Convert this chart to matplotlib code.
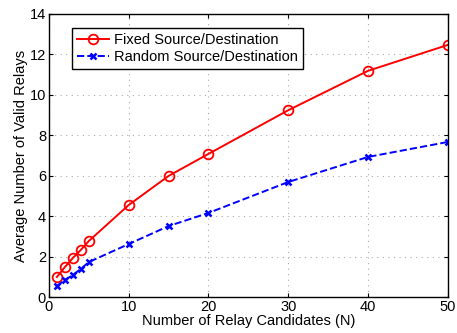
import matplotlib
matplotlib.use('Agg')
import matplotlib.pyplot as plt

# dados
n_values = [1, 2, 3, 4, 5, 10, 15, 20, 30, 40, 50]
fixed_relays = [0.99, 1.48, 1.93, 2.33, 2.77, 4.55, 5.99, 7.08, 9.24, 11.19, 12.47]
random_relays = [0.54, 0.84, 1.09, 1.39, 1.73, 2.62, 3.51, 4.16, 5.69, 6.93, 7.67]

plt.rcParams['font.family'] = ['Liberation Sans', 'DejaVu Sans']
plt.rcParams['font.size'] = 10.5

fig = plt.figure(figsize=(4.57, 3.33), dpi=100)
ax = fig.add_axes([0.107, 0.108, 0.873, 0.85])

ax.plot(n_values, fixed_relays, 'r-o', lw=1.4, ms=7, mfc='none', mew=1.3,
        label='Fixed Source/Destination')
ax.plot(n_values, random_relays, 'b--x', lw=1.4, ms=5, mew=1.8,
        label='Random Source/Destination')

ax.set_xlim(0, 50)
ax.set_ylim(0, 14)
ax.set_xticks(range(0, 51, 10))
ax.set_yticks(range(0, 15, 2))
ax.grid(True, linestyle=(0, (1, 4)), color='#aaaaaa', lw=0.8)
ax.tick_params(direction='in', length=3, top=True, right=True, labelsize=10.5, pad=2)
for s in ax.spines.values():
    s.set_linewidth(1.0)

ax.set_xlabel('Number of Relay Candidates (N)', labelpad=0)
ax.set_ylabel('Average Number of Valid Relays', labelpad=1)

leg = ax.legend(loc='upper left', bbox_to_anchor=(0.04, 0.975), fancybox=False,
                edgecolor='black', framealpha=1, handlelength=2.2,
                borderpad=0.35, labelspacing=0.2, handletextpad=0.3)
leg.get_frame().set_linewidth(1.0)

fig.savefig('out.png', dpi=100)
